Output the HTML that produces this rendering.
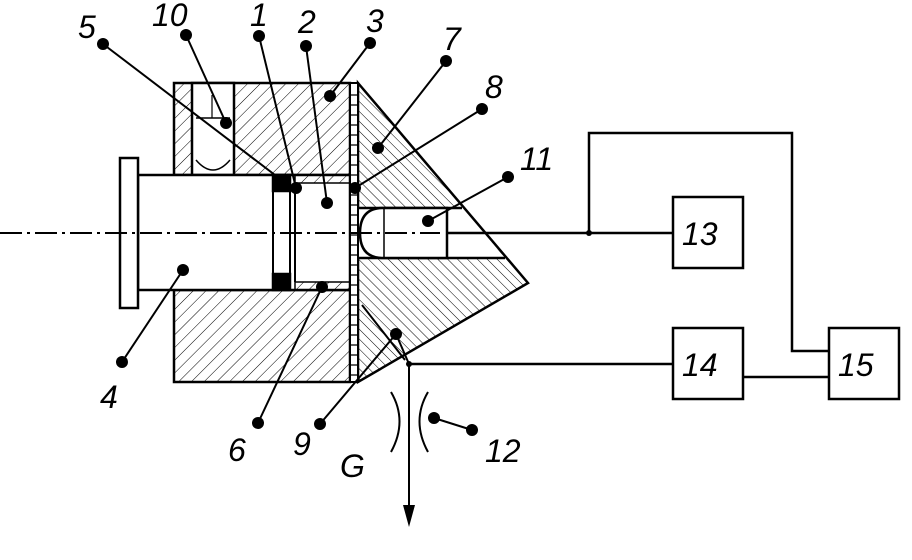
<!DOCTYPE html>
<html><head><meta charset="utf-8"><style>
html,body{margin:0;padding:0;background:#fff;}
svg{display:block}
text{font-family:"Liberation Sans",sans-serif;font-style:italic;font-size:32px;fill:#000}
</style></head><body>
<svg width="912" height="560" viewBox="0 0 912 560" xmlns="http://www.w3.org/2000/svg">
<defs>
<pattern id="h1" width="9" height="9" patternUnits="userSpaceOnUse" patternTransform="rotate(45)"><line x1="0" y1="0" x2="0" y2="9" stroke="#000" stroke-width="1"/></pattern>
<pattern id="h2" width="7" height="7" patternUnits="userSpaceOnUse" patternTransform="rotate(-45)"><line x1="0" y1="0" x2="0" y2="7" stroke="#000" stroke-width="1"/></pattern>
</defs>
<g stroke="#000" stroke-width="2.5" fill="none">
<!-- upper body -->
<rect x="174" y="83" width="176" height="92" fill="url(#h1)"/>
<rect x="192" y="83" width="42" height="92" fill="#fff"/>
<path d="M196 160 Q213 180 230 160" stroke-width="1.5"/>
<line x1="196" y1="118" x2="230" y2="118" stroke-width="1.5"/>
<line x1="212" y1="95" x2="212" y2="118" stroke-width="1.2"/>
<!-- lower body -->
<rect x="174" y="290" width="176" height="92" fill="url(#h1)"/>
<!-- bore -->
<rect x="138" y="175" width="212" height="115" fill="#fff"/>
<rect x="120" y="158" width="18" height="150" fill="#fff"/>
<!-- sleeve hatches -->
<rect x="295" y="175" width="55" height="8" fill="url(#h1)" stroke-width="1.5"/>
<rect x="295" y="282" width="55" height="8" fill="url(#h1)" stroke-width="1.5"/>
<!-- piston -->
<rect x="273" y="175" width="17" height="115" fill="#fff" stroke-width="2"/>
<rect x="273" y="175" width="17" height="16" fill="#000"/>
<rect x="273" y="274" width="17" height="16" fill="#000"/>
<line x1="295" y1="183" x2="295" y2="282" stroke-width="2"/>
<!-- cone -->
<path d="M358 83 L528 283 L358 382 Z" fill="url(#h2)"/>
<path d="M358 208 L462 208 L505 258 L358 258 Z" fill="#fff" stroke="none"/>
<line x1="358" y1="208" x2="462" y2="208"/>
<line x1="358" y1="258" x2="505" y2="258"/>
<path d="M447 208 L447 258 L383 258 Q360 258 360 233 Q360 208 383 208 Z" fill="#fff"/>
<line x1="384" y1="208" x2="384" y2="258" stroke-width="1.5"/>
<!-- membrane plate -->
<rect x="350" y="83" width="8" height="299" fill="#fff" stroke-width="2"/>
</g>
<g stroke="#000" stroke-width="1.2">
<path d="M351 95h6M351 105h6M351 115h6M351 125h6M351 135h6M351 145h6M351 155h6M351 165h6M351 175h6M351 185h6M351 195h6M351 205h6M351 215h6M351 225h6M351 235h6M351 245h6M351 255h6M351 265h6M351 275h6M351 285h6M351 295h6M351 305h6M351 315h6M351 325h6M351 335h6M351 345h6M351 355h6M351 365h6M351 375h6"/>
</g>
<!-- axis -->
<line x1="0" y1="233" x2="440" y2="233" stroke="#000" stroke-width="2" stroke-dasharray="22,5,3,5"/>
<g stroke="#000" stroke-width="2.5" fill="none">
<line x1="447" y1="233" x2="673" y2="233"/>
<polyline points="589,233 589,133 792,133 792,351 829,351"/>
<line x1="409" y1="364" x2="673" y2="364"/>
<line x1="743" y1="377" x2="829" y2="377"/>
<rect x="673" y="197" width="70" height="71" fill="#fff"/>
<rect x="673" y="328" width="70" height="71" fill="#fff"/>
<rect x="829" y="328" width="70" height="71" fill="#fff"/>
<line x1="409" y1="364" x2="409" y2="510" stroke-width="2"/>
<path d="M391 392 Q408 421 391 452" stroke-width="2"/>
<path d="M428 392 Q411 421 428 452" stroke-width="2"/>
</g>
<polygon points="403,505 415,505 409,527" fill="#000"/>
<circle cx="589" cy="233" r="3" fill="#000"/>
<circle cx="409" cy="364" r="3" fill="#000"/>
<!-- leaders -->
<g stroke="#000" stroke-width="2">
<line x1="103" y1="44" x2="292" y2="188"/>
<line x1="186" y1="35" x2="226" y2="123"/>
<line x1="259" y1="36" x2="296" y2="188"/>
<line x1="306" y1="46" x2="327" y2="203"/>
<line x1="370" y1="43" x2="330" y2="96"/>
<line x1="446" y1="61" x2="378" y2="148"/>
<line x1="482" y1="109" x2="355" y2="188"/>
<line x1="508" y1="177" x2="428" y2="221"/>
<line x1="122" y1="362" x2="183" y2="270"/>
<line x1="258" y1="423" x2="322" y2="287"/>
<line x1="320" y1="424" x2="396" y2="334"/>
<line x1="396" y1="334" x2="409" y2="364"/>
<line x1="362" y1="305" x2="405" y2="360"/>
<line x1="434" y1="418" x2="472" y2="430"/>
</g>
<g fill="#000">
<circle cx="103" cy="44" r="6"/><circle cx="186" cy="35" r="6"/><circle cx="226" cy="123" r="6"/>
<circle cx="259" cy="36" r="6"/><circle cx="296" cy="188" r="6"/><circle cx="306" cy="46" r="6"/>
<circle cx="327" cy="203" r="6"/><circle cx="370" cy="43" r="6"/><circle cx="330" cy="96" r="6"/>
<circle cx="446" cy="61" r="6"/><circle cx="378" cy="148" r="6"/><circle cx="482" cy="109" r="6"/>
<circle cx="355" cy="188" r="6"/><circle cx="508" cy="177" r="6"/><circle cx="428" cy="221" r="6"/>
<circle cx="122" cy="362" r="6"/><circle cx="183" cy="270" r="6"/><circle cx="258" cy="423" r="6"/>
<circle cx="322" cy="287" r="6"/><circle cx="320" cy="424" r="6"/><circle cx="396" cy="334" r="6"/>
<circle cx="434" cy="418" r="6"/><circle cx="472" cy="430" r="6"/>
</g>
<text x="78" y="38">5</text>
<text x="152" y="26">10</text>
<text x="250" y="26">1</text>
<text x="298" y="33">2</text>
<text x="366" y="32">3</text>
<text x="443" y="50">7</text>
<text x="485" y="98">8</text>
<text x="520" y="170">11</text>
<text x="100" y="408">4</text>
<text x="228" y="461">6</text>
<text x="293" y="455">9</text>
<text x="340" y="477">G</text>
<text x="485" y="462">12</text>
<text x="682" y="245" font-size="36">13</text>
<text x="682" y="376" font-size="36">14</text>
<text x="838" y="376" font-size="36">15</text>
</svg>
</body></html>
